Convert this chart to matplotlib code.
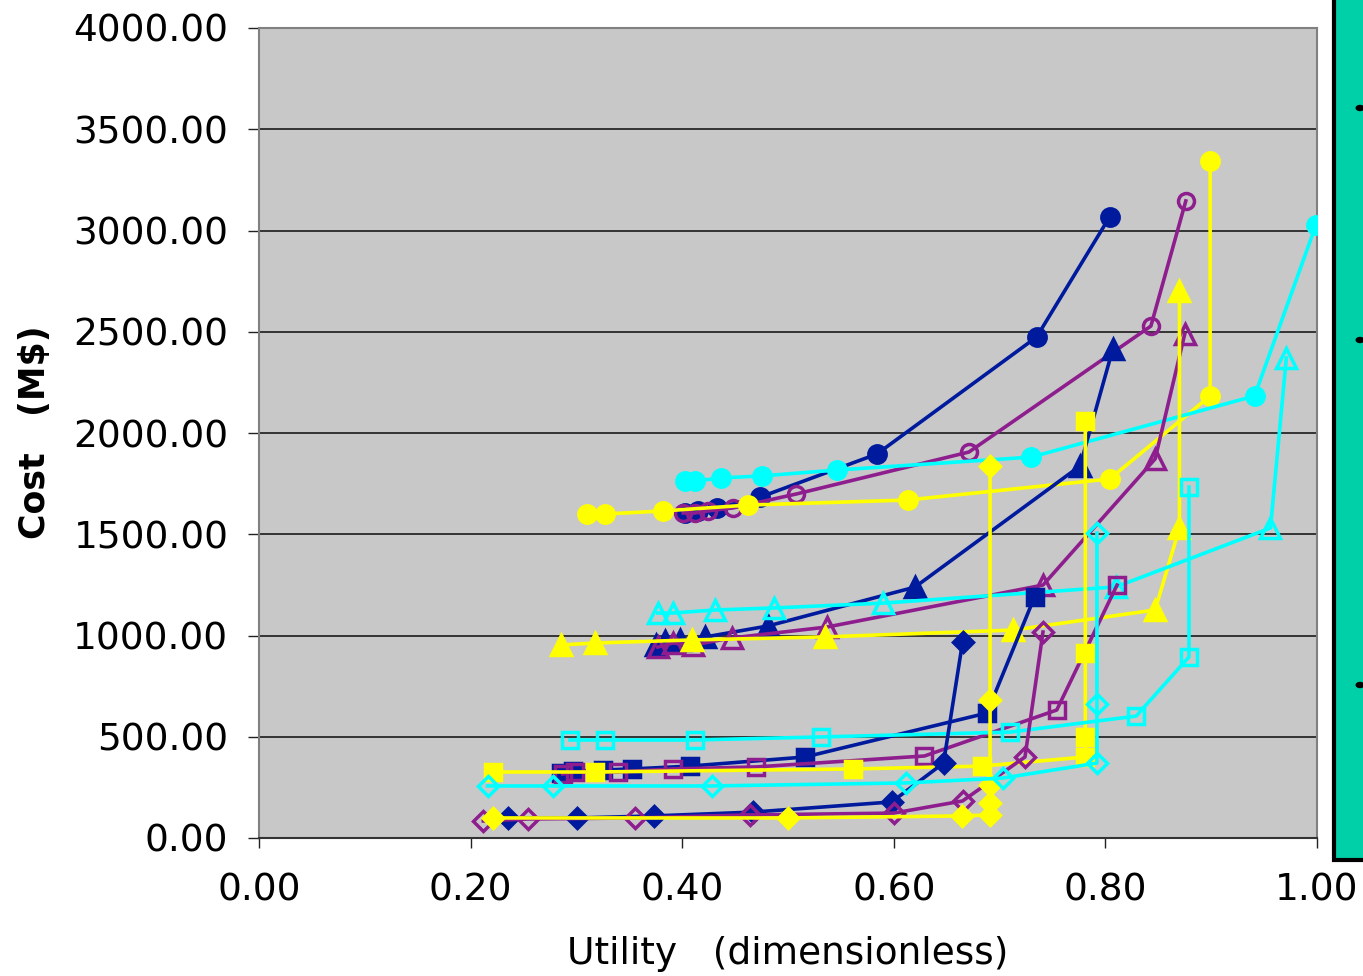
import matplotlib
matplotlib.use("Agg")
import matplotlib.pyplot as plt
from matplotlib.patches import Rectangle, Circle

# ---------------- data ----------------
# navy (filled)
navy_circ_x = [0.403, 0.415, 0.433, 0.474, 0.584, 0.735, 0.804]
navy_circ_y = [1605, 1615, 1630, 1684, 1896, 2474, 3067]
navy_tri_x = [0.375, 0.384, 0.398, 0.422, 0.481, 0.620, 0.776, 0.807]
navy_tri_y = [953, 973, 978, 993, 1047, 1239, 1837, 2415]
navy_sq_x = [0.285, 0.297, 0.325, 0.353, 0.407, 0.516, 0.688, 0.733]
navy_sq_y = [321, 331, 336, 341, 355, 400, 617, 1190]
navy_dia_x = [0.235, 0.301, 0.373, 0.467, 0.598, 0.647, 0.665]
navy_dia_y = [99, 99, 109, 128, 178, 370, 968]

# purple (open)
purp_circ_x = [0.401, 0.412, 0.424, 0.448, 0.508, 0.671, 0.843, 0.876]
purp_circ_y = [1605, 1605, 1615, 1630, 1699, 1906, 2528, 3146]
purp_tri_x = [0.377, 0.391, 0.410, 0.447, 0.537, 0.741, 0.847, 0.875]
purp_tri_y = [943, 963, 953, 988, 1042, 1249, 1872, 2489]
purp_sq_x = [0.287, 0.299, 0.339, 0.391, 0.470, 0.629, 0.754, 0.811]
purp_sq_y = [316, 326, 326, 341, 351, 405, 632, 1249]
purp_dia_x = [0.212, 0.254, 0.355, 0.464, 0.600, 0.665, 0.724, 0.741]
purp_dia_y = [84, 94, 99, 114, 123, 183, 400, 1017]

# yellow (filled)
yell_circ_x = [0.310, 0.327, 0.382, 0.462, 0.613, 0.804, 0.899, 0.899]
yell_circ_y = [1600, 1600, 1615, 1644, 1669, 1773, 2183, 3343]
yell_tri_x = [0.285, 0.318, 0.409, 0.535, 0.713, 0.847, 0.870, 0.870]
yell_tri_y = [953, 963, 978, 993, 1027, 1126, 1531, 2701]
yell_sq_x = [0.221, 0.318, 0.561, 0.683, 0.781, 0.781, 0.781, 0.781]
yell_sq_y = [326, 326, 341, 355, 400, 499, 914, 2059]
yell_dia_x = [0.221, 0.500, 0.664, 0.691, 0.691, 0.691, 0.691, 0.691]
yell_dia_y = [99, 99, 109, 114, 173, 262, 681, 1837]

# cyan (open)
cyan_circ_x = [0.403, 0.412, 0.437, 0.475, 0.546, 0.730, 0.941, 0.999]
cyan_circ_y = [1763, 1763, 1778, 1788, 1817, 1881, 2183, 3027]
cyan_tri_x = [0.377, 0.391, 0.431, 0.487, 0.590, 0.810, 0.956, 0.971]
cyan_tri_y = [1111, 1111, 1126, 1136, 1160, 1240, 1531, 2370]
cyan_sq_x = [0.294, 0.327, 0.412, 0.531, 0.710, 0.829, 0.879, 0.879]
cyan_sq_y = [484, 484, 484, 499, 523, 602, 894, 1733]
cyan_dia_x = [0.216, 0.278, 0.428, 0.612, 0.703, 0.792, 0.792, 0.792]
cyan_dia_y = [257, 257, 257, 272, 296, 370, 662, 1506]

x_ticks = [0.0, 0.2, 0.4, 0.6, 0.8, 1.0]
y_ticks = [0, 500, 1000, 1500, 2000, 2500, 3000, 3500, 4000]

NAVY = "#001A9E"
PURPLE = "#8E1E8E"
YELLOW = "#FFFF00"
CYAN = "#00FFFF"

# ---------------- figure ----------------
fig = plt.figure(figsize=(13.63, 9.76), dpi=100)
ax = fig.add_axes([259 / 1363, 1 - 838 / 976, (1317 - 259) / 1363, (838 - 28) / 976])
ax.set_facecolor("#C8C8C8")

for y in y_ticks[1:-1]:
    ax.axhline(y, color="#1a1a1a", lw=1.2, zorder=1)

lw = 2.6
series = [
    (navy_circ_x, navy_circ_y, NAVY, "o", True, 12.5),
    (purp_circ_x, purp_circ_y, PURPLE, "o", False, 11.5),
    (yell_circ_x, yell_circ_y, YELLOW, "o", True, 12.5),
    (cyan_circ_x, cyan_circ_y, CYAN, "o", True, 12.5),
    (navy_tri_x, navy_tri_y, NAVY, "^", True, 15),
    (purp_tri_x, purp_tri_y, PURPLE, "^", False, 14),
    (yell_tri_x, yell_tri_y, YELLOW, "^", True, 15),
    (cyan_tri_x, cyan_tri_y, CYAN, "^", False, 14),
    (navy_sq_x, navy_sq_y, NAVY, "s", True, 12),
    (purp_sq_x, purp_sq_y, PURPLE, "s", False, 11),
    (yell_sq_x, yell_sq_y, YELLOW, "s", True, 12),
    (cyan_sq_x, cyan_sq_y, CYAN, "s", False, 11),
    (navy_dia_x, navy_dia_y, NAVY, "D", True, 10.5),
    (purp_dia_x, purp_dia_y, PURPLE, "D", False, 10),
    (yell_dia_x, yell_dia_y, YELLOW, "D", True, 10.5),
    (cyan_dia_x, cyan_dia_y, CYAN, "D", False, 10),
]
for i, (xs, ys, c, m, filled, ms) in enumerate(series):
    ax.plot(xs, ys, color=c, lw=lw, marker=m, markersize=ms,
            markerfacecolor=c if filled else "none",
            markeredgecolor=c, markeredgewidth=2.5, zorder=3 + i * 0.01)

ax.set_xlim(0, 1)
ax.set_ylim(0, 4000)
ax.set_xticks(x_ticks)
ax.set_yticks(y_ticks)
ax.set_xticklabels([f"{v:.2f}" for v in x_ticks])
ax.set_yticklabels([f"{v:.2f}" for v in y_ticks])
ax.tick_params(axis="y", direction="out", length=8, width=1, pad=14,
               labelsize=27, colors="#222222", labelcolor="black")
ax.tick_params(axis="x", direction="out", length=7, width=1, pad=18,
               labelsize=27, colors="#222222", labelcolor="black")
for s in ["left", "right", "top"]:
    ax.spines[s].set_color("#808080")
    ax.spines[s].set_linewidth(1.5)
ax.spines["bottom"].set_color("#333333")
ax.spines["bottom"].set_linewidth(1.5)

ax.set_xlabel("Utility   (dimensionless)", fontsize=27, labelpad=20)
fig.text(35 / 1363, 1 - 432 / 976, "Cost   (M$)", rotation=90, ha="center", va="center",
         fontsize=25, fontweight="bold",
         family=["Liberation Sans Narrow", "DejaVu Sans"])

# teal side panel
panel = Rectangle((1334 / 1363, 1 - 860 / 976), 0.1, 0.2 + 860 / 976,
                  transform=fig.transFigure, facecolor="#00D0A8",
                  edgecolor="black", lw=3, zorder=10, clip_on=False)
fig.add_artist(panel)
for by in [108, 340, 685]:
    fig.add_artist(Circle((1360 / 1363, 1 - by / 976), 4.5 / 1363,
                          transform=fig.transFigure, facecolor="black",
                          edgecolor="none", zorder=11))

fig.savefig("out.png", dpi=100)
